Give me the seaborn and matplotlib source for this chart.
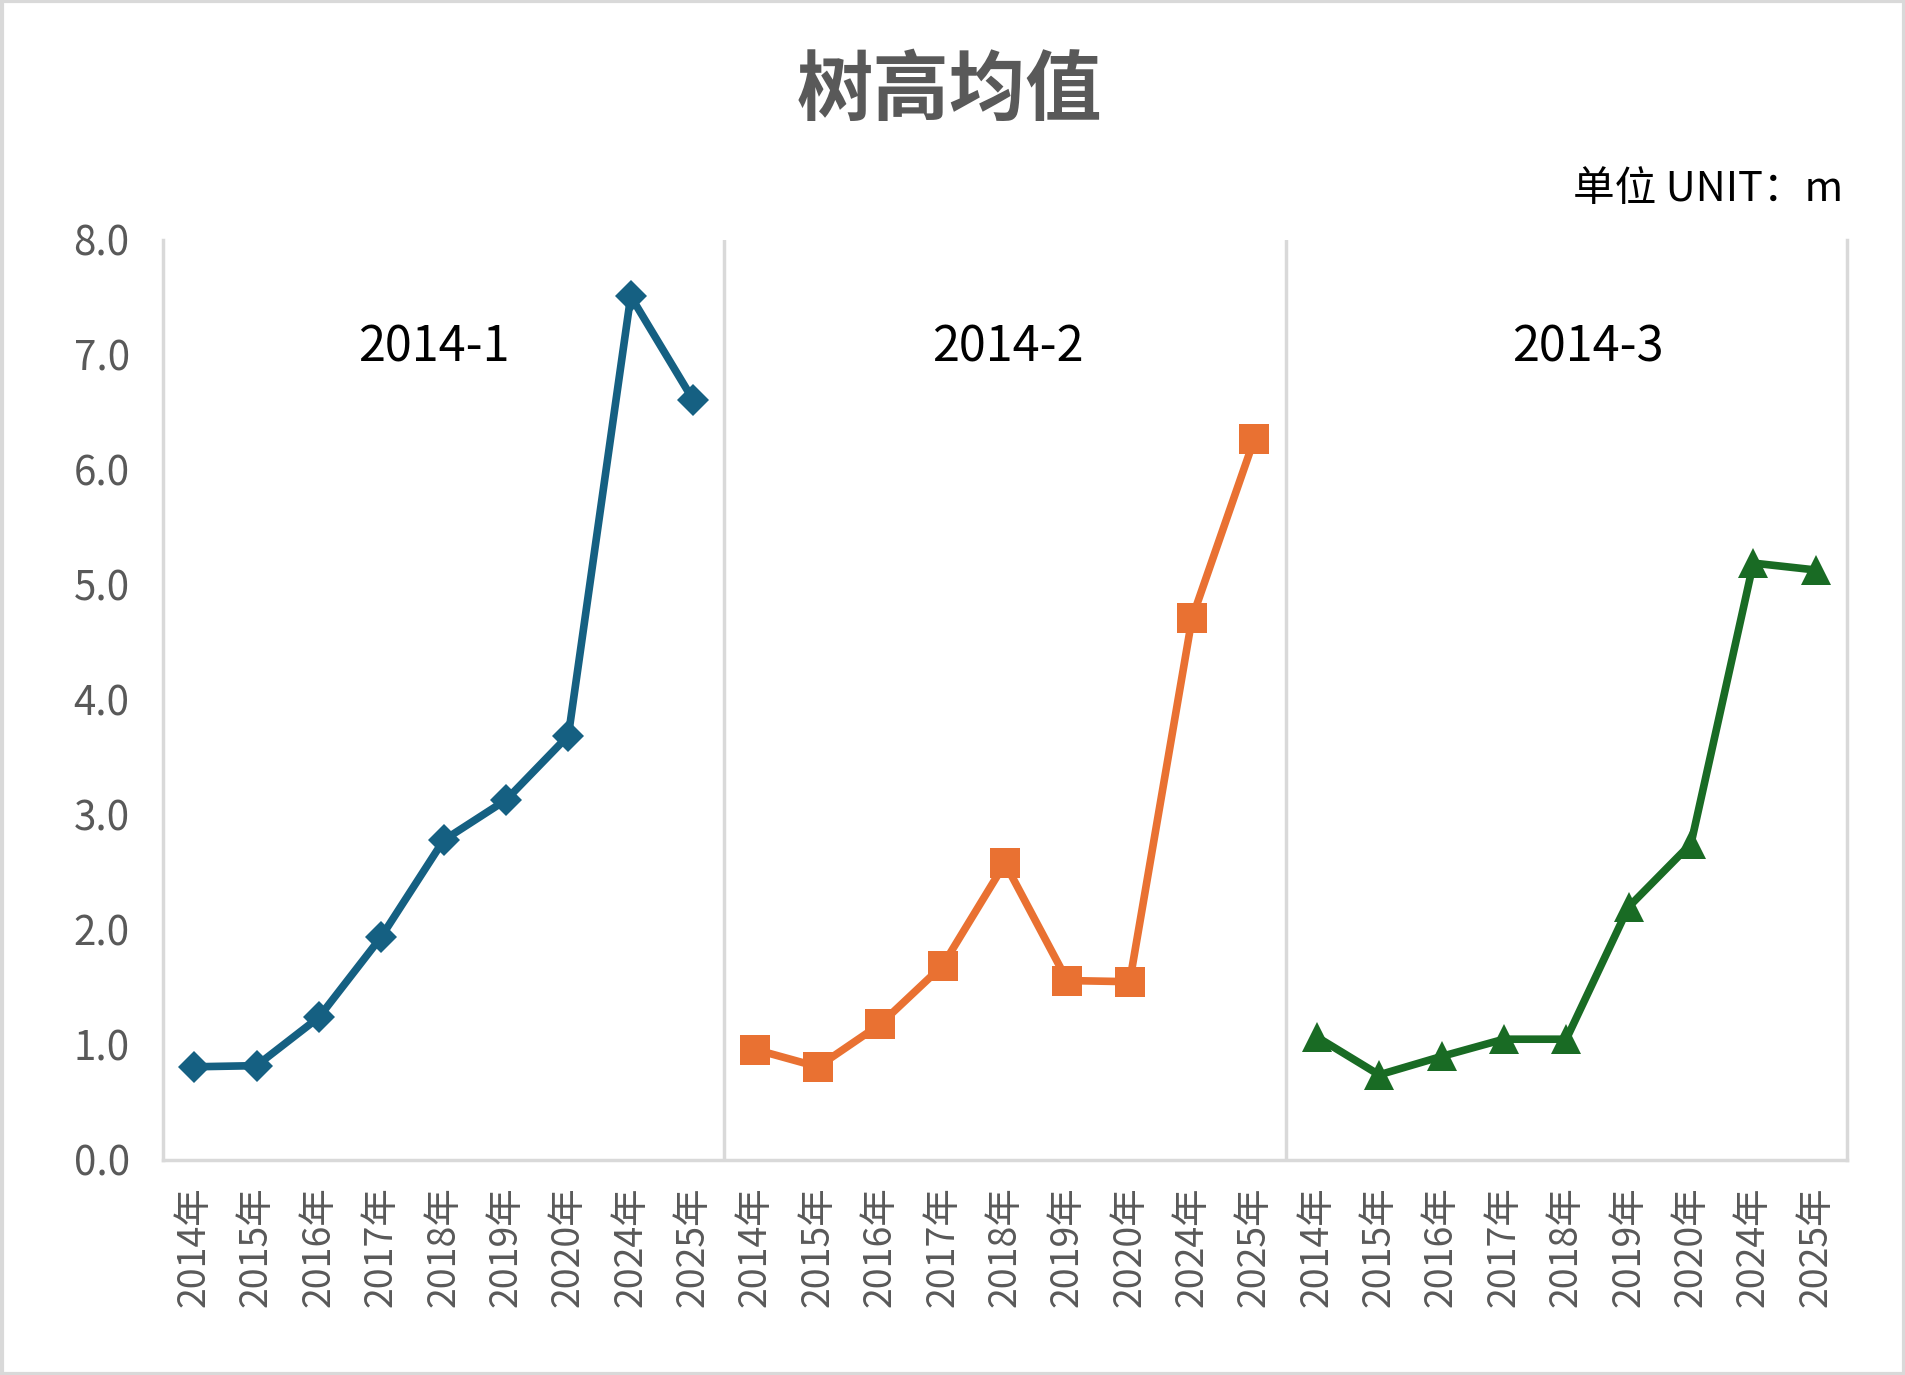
import matplotlib
matplotlib.use('agg')
import matplotlib.pyplot as plt
import pandas as pd
import seaborn as sns
from matplotlib.patches import Rectangle

# data
years = ["2014年", "2015年", "2016年", "2017年", "2018年", "2019年", "2020年", "2024年", "2025年"]
groups = ["2014-1", "2014-2", "2014-3"]
height_1 = [0.81, 0.82, 1.24, 1.94, 2.78, 3.13, 3.69, 7.51, 6.61]
height_2 = [0.96, 0.81, 1.18, 1.69, 2.58, 1.56, 1.55, 4.71, 6.27]
height_3 = [1.07, 0.74, 0.90, 1.05, 1.05, 2.20, 2.75, 5.19, 5.13]
y_ticks = [0.0, 1.0, 2.0, 3.0, 4.0, 5.0, 6.0, 7.0, 8.0]

colors = ["#156082", "#E97132", "#196B24"]
markers = ["D", "s", "^"]
marker_sizes = [16, 21, 21]

rows = []
for g, vals in enumerate([height_1, height_2, height_3]):
    for i, v in enumerate(vals):
        rows.append({"pos": g * len(years) + i, "year": years[i], "group": groups[g], "value": v})
df = pd.DataFrame(rows)

sns.set_theme(style="white")
plt.rcParams["font.family"] = ["Noto Sans CJK SC", "DejaVu Sans"]

fig = plt.figure(figsize=(19.06, 13.75), dpi=100)
ax = fig.add_axes([0.0855, 0.1564, 0.8835, 0.6691])

for g, name in enumerate(groups):
    sub = df[df.group == name]
    sns.lineplot(data=sub, x="pos", y="value", ax=ax, color=colors[g], linewidth=5.5,
                 marker=markers[g], markersize=marker_sizes[g], markeredgewidth=0,
                 legend=False)

n = len(years)
ax.set_xlim(-0.5, len(groups) * n - 0.5)
ax.set_ylim(0, 8)
for g in range(1, len(groups)):
    ax.axvline(g * n - 0.5, color="#d9d9d9", lw=2.5, zorder=0)

ax.set_xticks(df.pos)
ax.set_xticklabels(df.year, rotation=90, color="#595959", fontsize=27)
ax.set_yticks(y_ticks)
ax.set_yticklabels([f"{t:.1f}" for t in y_ticks], color="#595959", fontsize=29)
ax.tick_params(axis="x", length=0, pad=19)
ax.tick_params(axis="y", length=0, pad=24)
ax.set_xlabel("")
ax.set_ylabel("")

for side in ["left", "bottom", "right"]:
    ax.spines[side].set_color("#d9d9d9")
    ax.spines[side].set_linewidth(2.5)
ax.spines["top"].set_visible(False)

offsets = [-0.15, 0.05, 0.35]
for g, name in enumerate(groups):
    ax.text(g * n + (n - 1) / 2 + offsets[g], 7.06, name, fontsize=35,
            ha="center", va="center", color="black")

fig.text(0.498, 0.934, "树高均值", fontsize=55, fontweight="bold",
         color="#595959", ha="center", va="center")
fig.text(0.967, 0.862, "单位 UNIT：m", fontsize=30, color="black",
         ha="right", va="center")

fig.patches.append(Rectangle((0.001, 0.001), 0.998, 0.998, transform=fig.transFigure,
                             fill=False, edgecolor="#d9d9d9", linewidth=3))

fig.savefig("out.png", dpi=100)
